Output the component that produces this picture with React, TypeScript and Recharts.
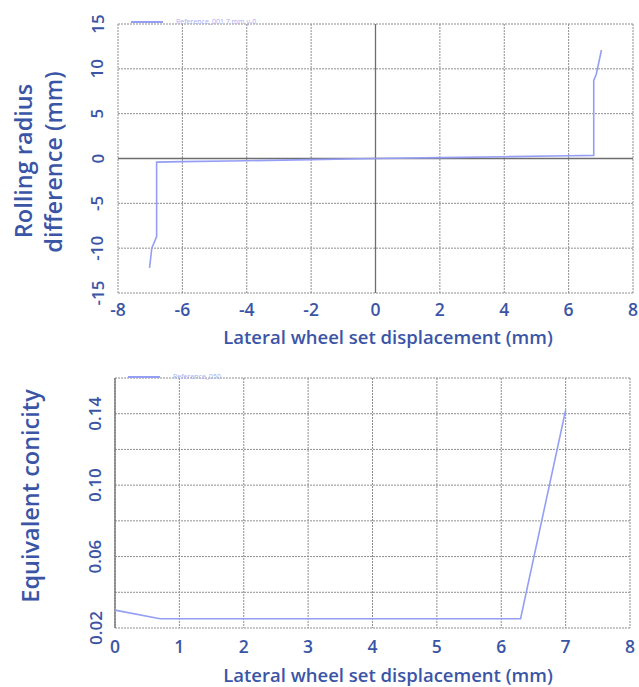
import React from "react";
import { LineChart, Line, XAxis, YAxis, CartesianGrid, ReferenceLine, Legend } from "recharts";

const topX = [-7.02, -6.95, -6.8, -6.8, -6, -4, -2, 0, 2, 4, 6, 6.78, 6.78, 6.86, 7.02];
const topY = [-12.2, -10.0, -8.7, -0.4, -0.35, -0.25, -0.12, 0, 0.1, 0.2, 0.3, 0.35, 8.7, 9.4, 12.1];
const topXTicks = [-8, -6, -4, -2, 0, 2, 4, 6, 8];
const topYTicks = [-15, -10, -5, 0, 5, 10, 15];
const topSeriesName = "Reference_001 7 mm y-0";

const botX = [0, 0.7, 6.3, 7.0];
const botY = [0.03, 0.0252, 0.0252, 0.142];
const botXTicks = [0, 1, 2, 3, 4, 5, 6, 7, 8];
const botYTicks = [0.02, 0.04, 0.06, 0.08, 0.1, 0.12, 0.14, 0.16];
const botYLabels = [0.02, 0.06, 0.1, 0.14];
const botSeriesName = "Reference_050";

const topData = topX.map((x, i) => ({ x, y: topY[i] }));
const botData = botX.map((x, i) => ({ x, y: botY[i] }));

const TEXT = "#3b55a6";
const LINE = "#959ef5";
const FONT = "'Open Sans', 'Noto Sans', sans-serif";

const RotTick = (props: any) => {
  const { x, y, payload, show, fmt, shift } = props;
  const v = payload.value;
  if (show && !show(v)) return null;
  const tx = x - shift;
  return (
    <text
      x={tx}
      y={y}
      transform={`rotate(-90 ${tx} ${y})`}
      textAnchor="middle"
      dominantBaseline="central"
      fill={TEXT}
      fontSize={17}
      fontWeight={600}
      fontFamily={FONT}
    >
      {fmt ? fmt(v) : String(v)}
    </text>
  );
};

const XTick = (props: any) => {
  const { x, y, payload, off } = props;
  return (
    <text
      x={x}
      y={y}
      dy={off}
      textAnchor="middle"
      fill={TEXT}
      fontSize={17.5}
      fontWeight={600}
      fontFamily={FONT}
    >
      {payload.value}
    </text>
  );
};

const LegendBox = (name: string) => () => (
  <div style={{ display: "flex", alignItems: "center", fontFamily: FONT }}>
    <svg width={34} height={6}>
      <line x1={1} y1={3} x2={33} y2={3} stroke={LINE} strokeWidth={2} />
    </svg>
    <span style={{ fontSize: 7, color: "#a7aef5", marginLeft: 12 }}>{name}</span>
  </div>
);

export default function App() {
  return (
    <div style={{ position: "absolute", left: 0, top: 0, width: 639, height: 687, background: "#fff" }}>
      <div style={{ position: "absolute", left: 0, top: 0 }}>
        <LineChart width={639} height={345} data={topData} margin={{ top: 15, right: 6, bottom: 0, left: 0 }}>
          <CartesianGrid stroke="#8f8f8f" strokeDasharray="2 1" strokeWidth={1} />
          <XAxis
            dataKey="x"
            type="number"
            domain={[-8, 8]}
            ticks={topXTicks}
            axisLine={false}
            tickLine={false}
            tickSize={0}
            tickMargin={0}
            height={52}
            tick={<XTick off={23} />}
          />
          <YAxis
            type="number"
            domain={[-15, 15]}
            ticks={topYTicks}
            axisLine={false}
            tickLine={false}
            tickSize={0}
            tickMargin={0}
            width={118}
            tick={<RotTick shift={21} />}
          />
          <ReferenceLine x={0} stroke="#6e6e6e" strokeWidth={1.3} />
          <ReferenceLine y={0} stroke="#6e6e6e" strokeWidth={1.3} />
          <Legend
            verticalAlign="top"
            align="left"
            content={LegendBox(topSeriesName)}
            wrapperStyle={{ position: "absolute", left: 130, top: 17, width: 200 }}
          />
          <Line
            type="linear"
            dataKey="y"
            stroke={LINE}
            strokeWidth={1.6}
            dot={false}
            isAnimationActive={false}
          />
        </LineChart>
      </div>
      <div style={{ position: "absolute", left: 0, top: 340 }}>
        <LineChart width={639} height={347} data={botData} margin={{ top: 29, right: 9, bottom: 0, left: 0 }}>
          <CartesianGrid stroke="#8f8f8f" strokeDasharray="2 1" strokeWidth={1} />
          <XAxis
            dataKey="x"
            type="number"
            domain={[0, 8]}
            ticks={botXTicks}
            axisLine={false}
            tickLine={false}
            tickSize={0}
            tickMargin={0}
            height={59}
            tick={<XTick off={25} />}
          />
          <YAxis
            type="number"
            domain={[0.02, 0.16]}
            ticks={botYTicks}
            axisLine={false}
            tickLine={false}
            tickSize={0}
            tickMargin={0}
            width={115}
            tick={
              <RotTick
                shift={20}
                show={(v: number) => botYLabels.some((l) => Math.abs(l - v) < 1e-9)}
                fmt={(v: number) => v.toFixed(2)}
              />
            }
          />
          <ReferenceLine x={0} stroke="#6e6e6e" strokeWidth={1.3} />
          <Legend
            verticalAlign="top"
            align="left"
            content={LegendBox(botSeriesName)}
            wrapperStyle={{ position: "absolute", left: 127, top: 32, width: 200 }}
          />
          <Line
            type="linear"
            dataKey="y"
            stroke={LINE}
            strokeWidth={1.6}
            dot={false}
            isAnimationActive={false}
          />
        </LineChart>
      </div>
      <svg width={639} height={687} style={{ position: "absolute", left: 0, top: 0, pointerEvents: "none" }}>
        <g fill={TEXT} fontSize={18.5} fontWeight={600} fontFamily={FONT} textAnchor="middle">
          <text x={388} y={344}>
            Lateral wheel set displacement (mm)
          </text>
          <text x={388} y={682}>
            Lateral wheel set displacement (mm)
          </text>
        </g>
        <g fill={TEXT} fontSize={23.5} fontWeight={600} fontFamily={FONT} textAnchor="middle">
          <text x={23} y={161} transform="rotate(-90 23 161)" dominantBaseline="central">
            Rolling radius
          </text>
          <text x={53} y={162} transform="rotate(-90 53 162)" dominantBaseline="central">
            difference (mm)
          </text>
          <text x={30} y={496} transform="rotate(-90 30 496)" dominantBaseline="central">
            Equivalent conicity
          </text>
        </g>
      </svg>
    </div>
  );
}
